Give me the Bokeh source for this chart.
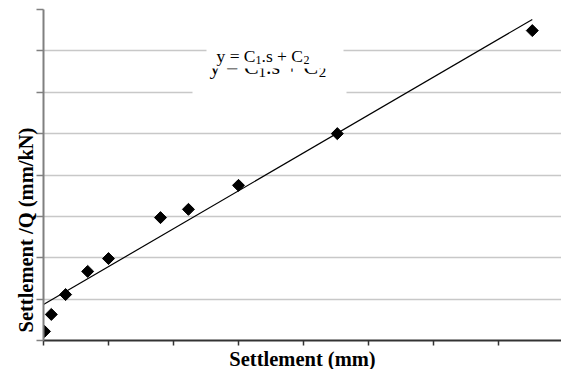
import numpy as np
from bokeh.plotting import figure
from bokeh.models import Label, FixedTicker, Range1d, Title
from bokeh.core.properties import value
from bokeh.embed import file_html
from bokeh.resources import INLINE

# data (arbitrary units on both axes)
settlement = [0.015, 0.12, 0.34, 0.68, 1.0, 1.8, 2.23, 3.0, 4.52, 7.52]
settle_per_q = [0.22, 0.63, 1.11, 1.67, 1.98, 2.97, 3.17, 3.75, 5.0, 7.49]
# linear fit y = C1*s + C2
C1 = 0.916
C2 = 0.87
fit_x = [0.0, 7.52]
x_ticks = [0, 1, 2, 3, 4, 5, 6, 7, 8]
y_ticks = [0, 1, 2, 3, 4, 5, 6, 7, 8]

p = figure(width=561, height=369, output_backend="svg", toolbar_location=None,
           x_range=Range1d(0, 518 / 65.0), y_range=Range1d(0, 8),
           min_border_left=43, min_border_top=9, min_border_bottom=29, min_border_right=0)
p.outline_line_color = None
p.background_fill_color = "white"
p.border_fill_color = "white"

# grid
p.xgrid.grid_line_color = None
p.ygrid.ticker = FixedTicker(ticks=y_ticks)
p.ygrid.grid_line_color = "#c8c8c8"
p.ygrid.grid_line_width = 1.5

# axes
p.xaxis.ticker = FixedTicker(ticks=x_ticks)
p.yaxis.ticker = FixedTicker(ticks=y_ticks)
for ax in (p.xaxis, p.yaxis):
    ax.major_label_text_font_size = "0px"
    ax.major_label_standoff = 0
    ax.minor_tick_line_color = None
    ax.major_tick_in = 0
    ax.axis_label = None
p.xaxis.axis_line_color = "#333333"
p.xaxis.axis_line_width = 2
p.xaxis.major_tick_line_color = "#333333"
p.xaxis.major_tick_line_width = 1.5
p.xaxis.major_tick_out = 5
p.yaxis.axis_line_color = "#808080"
p.yaxis.axis_line_width = 2
p.yaxis.major_tick_line_color = "#808080"
p.yaxis.major_tick_line_width = 1.5
p.yaxis.major_tick_out = 7

serif = "Liberation Serif"
eq_x = (216 - 43) / 65.0
eq_y = (340 - 55) / 41.375
dup_x = (209 - 43) / 65.0
dup_y = (340 - 66) / 41.375
eq_parts = [("y = C", 0, 0, False), ("1", 39, -4, True), (".s + C", 45, 0, False), ("2", 87, -4, True)]

# partially hidden duplicate of the equation, under a white box
k = 22 / 17.5
for txt, dx, dy, sub in eq_parts:
    p.text(x=[dup_x], y=[dup_y], text=[txt], x_offset=dx * k, y_offset=-dy * k,
           text_font=value(serif), text_font_size="15px" if sub else "22px",
           text_color="black", text_baseline="alphabetic", text_align="left")

# white boxes behind the equation
p.quad(left=[(206 - 43) / 65.0, (192 - 43) / 65.0],
       right=[(343 - 43) / 65.0, (346 - 43) / 65.0],
       top=[(340 - 40) / 41.375, (340 - 86) / 41.375],
       bottom=[(340 - 68) / 41.375, (340 - 98) / 41.375],
       fill_color="white", line_color=None)

for txt, dx, dy, sub in eq_parts:
    p.add_layout(Label(x=eq_x, y=eq_y, x_offset=dx, y_offset=dy, text=txt,
                       text_font=serif, text_font_size="12px" if sub else "17.5px",
                       text_color="black", text_baseline="alphabetic", text_align="left"))

# fitted line and data
fit_y = [C1 * v + C2 for v in fit_x]
p.line(fit_x, fit_y, line_color="black", line_width=1.2)
p.scatter(settlement, settle_per_q, marker="square", angle=np.pi / 4, size=8.5,
          fill_color="black", line_color="black")

# axis titles
p.add_layout(Title(text="Settlement (mm)", align="center", text_font=serif,
                   text_font_style="bold", text_font_size="20.5px", text_color="black",
                   standoff=0, offset=0), "below")
p.add_layout(Title(text="Settlement /Q (mm/kN)", align="left", text_font=serif,
                   text_font_style="bold", text_font_size="20.5px", text_color="black",
                   standoff=0, offset=8), "left")

open("out.html", "w").write(file_html(p, INLINE))
